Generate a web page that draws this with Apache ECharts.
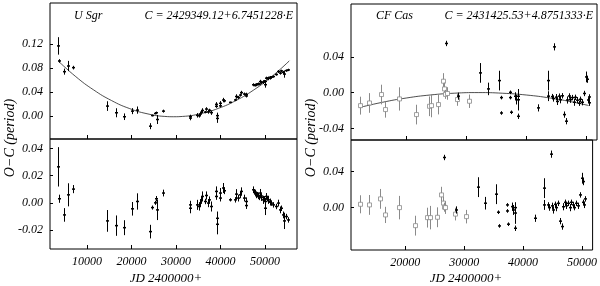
<!DOCTYPE html>
<html>
<head>
<meta charset="utf-8">
<script src="https://cdn.jsdelivr.net/npm/echarts@6/dist/echarts.min.js"></script>
<style>html,body{margin:0;padding:0;background:#fff}#c{width:600px;height:286px}</style>
</head>
<body>
<div id="c"></div>
<script>
// ---------- U Sgr ----------
const usgrX = [3570,3630,4840,5810,6790,14550,16430,18300,20160,21360,24200,24730,25250,25620,25650,27110,33090,33200,34740,35110,35340,35710,35940,36460,36830,37200,37420,37800,38920,39070,39220,39300,39820,39970,40560,40780,42060,43180,43560,43920,44300,44680,45270,45650,45800,47290,47500,47670,48040,48200,48410,48600,48790,49000,49160,49530,49700,49910,50000,50290,50500,50650,51030,51200,51400,51780,52530,52900,53270,53650,54010,54240,54620,55140];
const usgrOC = [0.1167,0.0917,0.0739,0.0833,0.0806,0.0167,0.0056,-0.0010,0.0083,0.0100,-0.0167,0.0010,0.0044,0.0056,-0.0056,0.0083,-0.0032,-0.0006,0.0013,0.0006,0.0035,0.0065,0.0094,0.0067,0.0118,0.0070,0.0098,0.0058,0.0196,0.0163,-0.0038,0.0008,0.0171,0.0213,0.0267,0.0254,0.0229,0.0269,0.0326,0.0311,0.0350,0.0391,0.0367,0.0359,0.0335,0.0521,0.0515,0.0516,0.0522,0.0531,0.0534,0.0532,0.0574,0.0563,0.0560,0.0564,0.0581,0.0523,0.0578,0.0631,0.0626,0.0627,0.0632,0.0647,0.0647,0.0658,0.0692,0.0741,0.0715,0.0752,0.0727,0.0699,0.0757,0.0768];
const usgrRes = [0.0265,0.0030,-0.0089,0.0059,0.0101,-0.0133,-0.0168,-0.0183,-0.0044,0.0010,-0.0212,-0.0035,0.0000,0.0030,-0.0052,0.0072,-0.0040,-0.0015,-0.0015,-0.0027,-0.0002,0.0022,0.0047,0.0010,0.0054,-0.0002,0.0022,-0.0027,0.0084,0.0047,-0.0158,-0.0114,0.0035,0.0072,0.0109,0.0089,0.0022,0.0022,0.0064,0.0035,0.0059,0.0084,0.0035,0.0010,-0.0020,0.0096,0.0080,0.0072,0.0059,0.0060,0.0052,0.0040,0.0072,0.0050,0.0039,0.0022,0.0030,-0.0040,0.0010,0.0047,0.0030,0.0022,0.0005,0.0010,-0.0002,-0.0015,-0.0027,-0.0002,-0.0052,-0.0040,-0.0089,-0.0133,-0.0101,-0.0126];
const usgrErr = [0.0145,0.0030,0.0050,0.0085,0.0030,0.0080,0.0075,0.0055,0.0050,0.0060,0.0050,0.0015,0.0015,0.0020,0.0075,0.0025,0.0037,0.0030,0.0037,0.0030,0.0025,0.0025,0.0037,0.0020,0.0030,0.0030,0.0025,0.0037,0.0037,0.0025,0.0074,0.0050,0.0025,0.0037,0.0037,0.0025,0.0012,0.0020,0.0037,0.0025,0.0025,0.0030,0.0025,0.0030,0.0025,0.0025,0.0020,0.0025,0.0025,0.0020,0.0025,0.0020,0.0030,0.0020,0.0025,0.0030,0.0020,0.0050,0.0020,0.0025,0.0020,0.0030,0.0025,0.0020,0.0020,0.0020,0.0020,0.0025,0.0025,0.0020,0.0025,0.0060,0.0020,0.0020];
const usgrFitX = [3500,7500,11500,15500,19500,23500,27500,29500,31500,35500,39500,43500,47500,51500,55500];
const usgrFitY = [0.0920,0.0656,0.0436,0.0260,0.0128,0.0040,-0.0005,-0.0010,-0.0005,0.0040,0.0128,0.0260,0.0436,0.0656,0.0920];

// ---------- CF Cas ---------- (kind: 0 = open square, 1 = dot)
const cfX    = [12330,13880,15780,16500,18880,21670,23720,24170,25380,26120,26330,26500,26620,26780,28450,28560,30390,32330,33610,35390,35830,35850,37220,37330,37500,38170,38330,38560,38610,38620,41950,43560,43570,44280,44450,44670,44900,45120,45450,45670,46000,46220,46670,46780,47060,47330,47610,47890,48170,48440,48720,49000,49280,49670,50000,50110,50220,50390,50500];
const cfOC   = [-0.0146,-0.0116,-0.0022,-0.0190,-0.0071,-0.0246,-0.0153,-0.0146,-0.0134,0.0127,0.0041,-0.0020,0.0549,-0.0010,-0.0078,-0.0040,-0.0097,0.0220,0.0041,0.0134,-0.0056,-0.0228,0.0003,-0.0056,-0.0220,-0.0041,-0.0078,-0.0080,-0.0265,-0.0041,-0.0171,0.0134,-0.0040,-0.0045,-0.0066,0.0511,-0.0051,-0.0099,-0.0040,-0.0080,-0.0036,-0.0246,-0.0320,-0.0083,-0.0038,-0.0080,-0.0056,-0.0108,-0.0053,-0.0085,-0.0119,-0.0075,-0.0108,-0.0010,0.0175,0.0149,-0.0083,-0.0114,-0.0049];
const cfRes  = [0.0037,0.0030,0.0097,-0.0081,0.0000,-0.0200,-0.0111,-0.0111,-0.0107,0.0141,0.0050,0.0005,0.0556,0.0000,-0.0072,-0.0026,-0.0100,0.0227,0.0049,0.0149,-0.0051,-0.0203,0.0030,-0.0037,-0.0184,0.0011,-0.0026,-0.0060,-0.0229,0.0000,-0.0118,0.0216,0.0030,0.0030,0.0000,0.0593,0.0020,-0.0026,0.0037,0.0000,0.0048,-0.0150,-0.0210,0.0010,0.0059,0.0020,0.0048,0.0000,0.0059,0.0030,0.0000,0.0048,0.0020,0.0141,0.0326,0.0289,0.0059,0.0030,0.0097];
const cfErr  = [0.0100,0.0110,0.0110,0.0090,0.0130,0.0110,0.0110,0.0130,0.0110,0.0090,0.0070,0.0050,0.0030,0.0070,0.0070,0.0040,0.0075,0.0110,0.0070,0.0110,0.0020,0.0020,0.0020,0.0020,0.0020,0.0045,0.0055,0.0120,0.0030,0.0040,0.0040,0.0110,0.0055,0.0030,0.0035,0.0040,0.0035,0.0040,0.0030,0.0040,0.0030,0.0035,0.0035,0.0040,0.0030,0.0035,0.0030,0.0040,0.0030,0.0035,0.0030,0.0030,0.0035,0.0030,0.0060,0.0040,0.0030,0.0035,0.0030];
const cfKind = [0,0,0,0,0,0,0,0,0,0,0,0,1,0,0,1,0,1,1,1,1,1,1,1,1,1,1,1,1,1,1,1,1,1,1,1,1,1,1,1,1,1,1,1,1,1,1,1,1,1,1,1,1,1,1,1,1,1,1];
const cfFitX = [12200,16000,20000,24000,28000,32000,36000,40000,44000,48000,50400];
const cfFitY = [-0.0167,-0.0109,-0.0061,-0.0027,-0.0007,0.0000,-0.0007,-0.0027,-0.0061,-0.0109,-0.0145];

// ---------- tick labels ----------
const usgrXTicks = [10000,20000,30000,40000,50000];
const cfXTicks = [20000,30000,40000,50000];
const usgrTopYTicks = [0.00,0.04,0.08,0.12];
const usgrBotYTicks = [-0.02,0.00,0.02,0.04];
const cfTopYTicks = [-0.04,0.00,0.04];
const cfBotYTicks = [0.00,0.04];

const FONT = 'Liberation Serif';
const chart = echarts.init(document.getElementById('c'), null, {renderer:'canvas'});

function errRender(params, api) {
  const x = api.value(0), y = api.value(1), e = api.value(2), k = api.value(3);
  const c = api.coord([x, y]);
  const lo = api.coord([x, y - e]);
  const hi = api.coord([x, y + e]);
  const sq = k === 0;
  const col = sq ? '#8a8a8a' : '#000';
  const cx = Math.round(c[0]) + 0.5;
  const ch = [{type:'line', shape:{x1:cx, y1:lo[1], x2:cx, y2:hi[1]}, style:{stroke:col, lineWidth:1}}];
  if (sq) {
    ch.push({type:'rect', shape:{x:cx-2, y:c[1]-2, width:4, height:4}, style:{stroke:col, fill:'#fff', lineWidth:0.8}});
  } else {
    ch.push({type:'line', shape:{x1:cx-1.5, y1:c[1], x2:cx+1.5, y2:c[1]}, style:{stroke:col, lineWidth:1.5}});
  }
  return {type:'group', children:ch};
}

function xAx(grid, min, max, ticks, showLabel) {
  return {
    gridIndex:grid, type:'value', min:min, max:max, position:'bottom',
    axisLine:{show:false, onZero:false}, splitLine:{show:false},
    axisTick:{show:true, inside:true, length:4, customValues:ticks, lineStyle:{color:'#000', width:1}},
    axisLabel:{show:showLabel, customValues:ticks, formatter:v=>String(v), fontFamily:FONT, fontStyle:'italic', fontSize:12, color:'#000', margin:7}
  };
}
function yAx(grid, min, max, ticks) {
  return {
    gridIndex:grid, type:'value', min:min, max:max, position:'left',
    axisLine:{show:false, onZero:false}, splitLine:{show:false},
    axisTick:{show:true, inside:true, length:3, customValues:ticks, lineStyle:{color:'#000', width:1}},
    axisLabel:{show:true, customValues:ticks, formatter:v=>v.toFixed(2), fontFamily:FONT, fontStyle:'italic', fontSize:12, color:'#000', margin:7}
  };
}

function errData(xs, ys, es, ks) {
  return xs.map((x, i) => [x, ys[i], es[i], ks ? ks[i] : 1]);
}

const gridStyle = {show:true, borderColor:'#000', borderWidth:1, backgroundColor:'rgba(0,0,0,0)', containLabel:false};
const txt = {fontFamily:FONT, fontStyle:'italic', fill:'#000'};

chart.setOption({
  animation:false,
  backgroundColor:'#fff',
  grid:[
    Object.assign({left:50, top:3, width:247, height:136}, gridStyle),
    Object.assign({left:50, top:139, width:247, height:110}, gridStyle),
    Object.assign({left:351, top:4, width:246, height:136}, gridStyle),
    Object.assign({left:351, top:140, width:246, height:110}, gridStyle)
  ],
  xAxis:[
    xAx(0, 1700, 57200, usgrXTicks, false),
    xAx(1, 1700, 57200, usgrXTicks, true),
    xAx(2, 10800, 51800, cfXTicks, false),
    xAx(3, 10800, 51800, cfXTicks, true)
  ],
  yAxis:[
    yAx(0, -0.038, 0.188, usgrTopYTicks),
    yAx(1, -0.034, 0.047, usgrBotYTicks),
    yAx(2, -0.053, 0.099, cfTopYTicks),
    yAx(3, -0.047, 0.075, cfBotYTicks)
  ],
  graphic:[
    {type:'text', left:74, top:10, style:Object.assign({text:'U Sgr', fontSize:12}, txt)},
    {type:'text', right:307, top:10, style:Object.assign({text:'C = 2429349.12+6.7451228·E', fontSize:12}, txt)},
    {type:'text', left:376, top:10, style:Object.assign({text:'CF Cas', fontSize:12}, txt)},
    {type:'text', right:7, top:10, style:Object.assign({text:'C = 2431425.53+4.8751333·E', fontSize:12}, txt)},
    {type:'text', x:10, y:138, rotation:Math.PI/2, style:Object.assign({text:'O−C (period)', fontSize:14, align:'center', verticalAlign:'middle'}, txt)},
    {type:'text', x:311, y:138, rotation:Math.PI/2, style:Object.assign({text:'O−C (period)', fontSize:14, align:'center', verticalAlign:'middle'}, txt)},
    {type:'text', x:166, y:279, style:Object.assign({text:'JD 2400000+', fontSize:13, align:'center', verticalAlign:'middle'}, txt)},
    {type:'text', x:466, y:279, style:Object.assign({text:'JD 2400000+', fontSize:13, align:'center', verticalAlign:'middle'}, txt)}
  ],
  series:[
    {type:'line', xAxisIndex:0, yAxisIndex:0, data:usgrFitX.map((x,i)=>[x, usgrFitY[i]]), smooth:true, showSymbol:false, symbol:'none', lineStyle:{color:'#222', width:0.8}, z:1},
    {type:'custom', xAxisIndex:0, yAxisIndex:0, renderItem:errRender, data:errData(usgrX, usgrOC, usgrErr), encode:{x:0, y:1}, clip:true, z:2},
    {type:'custom', xAxisIndex:1, yAxisIndex:1, renderItem:errRender, data:errData(usgrX, usgrRes, usgrErr), encode:{x:0, y:1}, clip:true, z:2},
    {type:'line', xAxisIndex:2, yAxisIndex:2, data:cfFitX.map((x,i)=>[x, cfFitY[i]]), smooth:true, showSymbol:false, symbol:'none', lineStyle:{color:'#222', width:0.8}, z:1},
    {type:'custom', xAxisIndex:2, yAxisIndex:2, renderItem:errRender, data:errData(cfX, cfOC, cfErr, cfKind), encode:{x:0, y:1}, clip:true, z:2},
    {type:'custom', xAxisIndex:3, yAxisIndex:3, renderItem:errRender, data:errData(cfX, cfRes, cfErr, cfKind), encode:{x:0, y:1}, clip:true, z:2}
  ]
});
</script>
</body>
</html>
